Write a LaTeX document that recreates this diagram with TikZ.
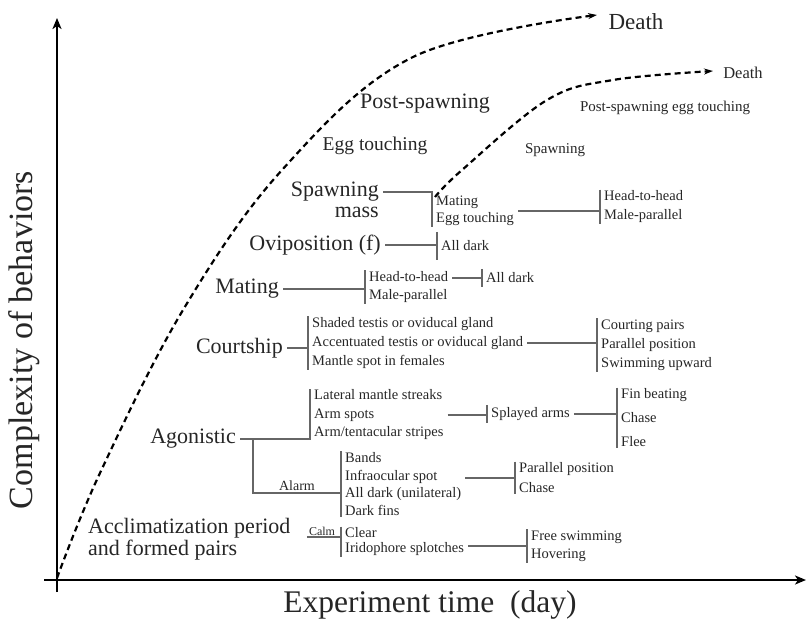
\documentclass[tikz,border=0pt]{standalone}
\usepackage{fontspec}
\setmainfont{Liberation Serif}
\usetikzlibrary{arrows.meta}
\begin{document}
\begin{tikzpicture}[x=1pt, y=-1pt,
    axis/.style={line width=2.2pt, -{Stealth[length=11pt, width=9pt, inset=3pt]}},
    life/.style={line width=2.2pt, dash pattern=on 6pt off 4pt, -{Stealth[length=9pt, width=6pt]}},
    big/.style={font=\fontsize{22}{21}\selectfont, inner xsep=4pt, inner ysep=0pt, text=black!85},
    item/.style={font=\fontsize{14.5}{#1}\selectfont, align=left, anchor=west, inner xsep=4pt, inner ysep=1pt, text=black!85},
    item/.default=18.5,
    link/.style={black!60, line width=1.1pt}]
  \useasboundingbox (0,0) rectangle (808,624);
  % Axes
  \draw[axis] (57,592) -- (57,18);
  \draw[axis] (44,580) -- (806,580);
  \node[font=\fontsize{31.5}{31}\selectfont, text=black!85] (xlab) at (430,605) {Experiment time~ (day)};
  \node[font=\fontsize{34}{34}\selectfont, text=black!85, rotate=90] (ylab) at (24,340) {Complexity of behaviors};

  % Life curves
  \draw[life] plot[smooth, tension=0.6] coordinates {(57,578) (100,473) (183,310) (282,170) (413,57) (597,15)};
  \draw[life] plot[smooth, tension=0.6] coordinates {(435,197) (462,170) (547,100) (613,80) (713,71)};
  \node[font=\fontsize{23}{23}\selectfont, text=black!85] (deatha) at (636,22) {Death};
  \node[font=\fontsize{16.5}{16}\selectfont, text=black!85] (deathb) at (743,73) {Death};
  \node[big] (postsp) at (425,104) {Post-spawning};
  \node[font=\fontsize{19.5}{19}\selectfont, text=black!85] (eggt) at (375,146) {Egg touching};
  \node[font=\fontsize{15}{15}\selectfont, text=black!85] (spawn) at (555,150) {Spawning};
  \node[font=\fontsize{15}{15}\selectfont, text=black!85] (postegg) at (665,108) {Post-spawning egg touching};

  % Spawning mass
  \node[big, align=right, anchor=east] (spm) at (383,200) {Spawning\\mass};
  \coordinate (spmk) at (432,192);
  \node[item=17] (spmi) at (432,211) {Mating\\Egg touching};
  \node[item=19] (spmh) at (600,207) {Head-to-head\\Male-parallel};
  \draw[link] (spm.east |- spmk) -- (spmk) -- (spmi.south west);
  \draw[link] (spmi.east) -- (spmi.east -| spmh.west);
  \draw[link] (spmh.north west) -- (spmh.south west);

  % Oviposition
  \node[big, anchor=east] (ovi) at (385,245) {Oviposition (f)};
  \node[item, minimum height=28pt] (ovid) at (437,246) {All dark};
  \draw[link] (ovi.east) -- (ovi.east -| ovid.west);
  \draw[link] (ovid.north west) -- (ovid.south west);

  % Mating
  \node[big, anchor=east] (mat) at (283,289) {Mating};
  \node[item=18] (mati) at (365,287) {Head-to-head\\Male-parallel};
  \node[item, minimum height=18pt] (matd) at (482,278) {All dark};
  \draw[link] (mat.east) -- (mat.east -| mati.west);
  \draw[link] (mati.north west) -- (mati.south west);
  \draw[link] (mati.east |- matd.west) -- (matd.west);
  \draw[link] (matd.north west) -- (matd.south west);

  % Courtship
  \node[big, anchor=east] (cour) at (287,348) {Courtship};
  \node[item=19] (couri) at (308,343) {Shaded testis or oviducal gland\\Accentuated testis or oviducal gland\\Mantle spot in females};
  \node[item=19] (courp) at (597,345) {Courting pairs\\Parallel position\\Swimming upward};
  \draw[link] (cour.east) -- (cour.east -| couri.west);
  \draw[link] (couri.north west) -- (couri.south west);
  \draw[link] (couri.east) -- (couri.east -| courp.west);
  \draw[link] (courp.north west) -- (courp.south west);

  % Agonistic
  \node[big, anchor=east] (ago) at (240,439) {Agonistic};
  \node[item] (agoi) at (310,415) {Lateral mantle streaks\\Arm spots\\Arm/tentacular stripes};
  \node[item, minimum height=18pt] (spl) at (487,414) {Splayed arms};
  \node[item=24] (fin) at (617,418) {Fin beating\\Chase\\Flee};
  \draw[link] (ago.east) -- (ago.east -| agoi.west) -- (agoi.north west);
  \draw[link] (agoi.east) -- (agoi.east -| spl.west);
  \draw[link] (spl.north west) -- (spl.south west);
  \draw[link] (spl.east) -- (spl.east -| fin.west);
  \draw[link] (fin.north west) -- (fin.south west);

  % Alarm
  \coordinate (alk) at (253,439);
  \node[font=\fontsize{14}{14}\selectfont, text=black!85, anchor=south, inner sep=2pt] (alarm) at (297,493) {Alarm};
  \node[item=17.7] (alai) at (341,484) {Bands\\Infraocular spot\\All dark (unilateral)\\Dark fins};
  \node[item=20] (alap) at (515,478) {Parallel position\\Chase};
  \draw[link] (alk) |- (alarm.south -| alai.west);
  \draw[link] (alai.north west) -- (alai.south west);
  \draw[link] (alai.east |- alap.west) -- (alap.west);
  \draw[link] (alap.north west) -- (alap.south west);

  % Acclimatization
  \node[big, align=left, anchor=west, inner xsep=0pt, font=\fontsize{22}{22}\selectfont] (acc) at (88,539) {Acclimatization period\\and formed pairs};
  \node[font=\fontsize{12}{12}\selectfont, text=black!85, anchor=south, inner xsep=2pt, inner ysep=1pt] (calm) at (322,537) {Calm};
  \node[item=15] (acci) at (341,542) {Clear\\Iridophore splotches};
  \node[item=18] (accp) at (527,546) {Free swimming\\Hovering};
  \draw[link] (calm.south west) -- (calm.south west -| acci.west);
  \draw[link] (acci.north west) -- (acci.south west);
  \draw[link] (acci.east |- accp.west) -- (accp.west);
  \draw[link] (accp.north west) -- (accp.south west);
\end{tikzpicture}
\end{document}
